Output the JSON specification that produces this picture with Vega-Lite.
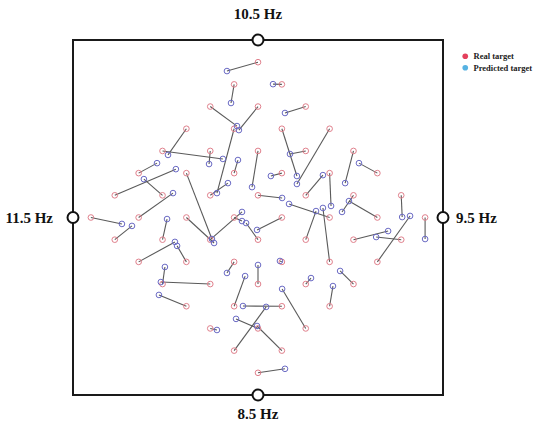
{
  "$schema": "https://vega.github.io/schema/vega-lite/v6.json",
  "width": 370,
  "height": 355,
  "autosize": "none",
  "padding": {"left": 73, "top": 40, "right": 94, "bottom": 28},
  "background": "white",
  "config": {
    "view": {"stroke": "#1a1a1a", "strokeWidth": 2},
    "text": {"font": "Liberation Serif", "fontWeight": "bold", "fontSize": 15, "color": "#111"}
  },
  "datasets": {
    "pairs": [
      {"rx": 0, "ry": 7, "px": -1.30, "py": 6.60},
      {"rx": -1, "ry": 6, "px": -1.13, "py": 5.16},
      {"rx": 1, "ry": 6, "px": 0.63, "py": 6.01},
      {"rx": -2, "ry": 5, "px": -0.88, "py": 4.12},
      {"rx": 0, "ry": 5, "px": -0.80, "py": 3.94},
      {"rx": 2, "ry": 5, "px": 1.13, "py": 4.71},
      {"rx": -3, "ry": 4, "px": -3.77, "py": 2.82},
      {"rx": -1, "ry": 4, "px": -1.72, "py": 1.10},
      {"rx": 1, "ry": 4, "px": 1.63, "py": 1.87},
      {"rx": 3, "ry": 4, "px": 1.63, "py": 1.51},
      {"rx": -4, "ry": 3, "px": -1.47, "py": 2.64},
      {"rx": -2, "ry": 3, "px": -2.05, "py": 2.41},
      {"rx": 0, "ry": 3, "px": -0.25, "py": 1.37},
      {"rx": 2, "ry": 3, "px": 1.34, "py": 2.86},
      {"rx": 4, "ry": 3, "px": 3.65, "py": 1.55},
      {"rx": -5, "ry": 2, "px": -4.23, "py": 2.45},
      {"rx": -3, "ry": 2, "px": -1.93, "py": -0.97},
      {"rx": -1, "ry": 2, "px": -0.84, "py": 2.59},
      {"rx": 1, "ry": 2, "px": 0.54, "py": 1.87},
      {"rx": 3, "ry": 2, "px": 3.06, "py": 0.52},
      {"rx": 5, "ry": 2, "px": 4.23, "py": 2.45},
      {"rx": -6, "ry": 1, "px": -3.44, "py": 2.18},
      {"rx": -4, "ry": 1, "px": -4.78, "py": 1.73},
      {"rx": -2, "ry": 1, "px": -1.26, "py": 1.55},
      {"rx": 0, "ry": 1, "px": 1.01, "py": 0.88},
      {"rx": 2, "ry": 1, "px": 2.72, "py": 1.91},
      {"rx": 4, "ry": 1, "px": 3.52, "py": 0.25},
      {"rx": 6, "ry": 1, "px": 6.04, "py": 0.02},
      {"rx": -7, "ry": 0, "px": -5.70, "py": -0.29},
      {"rx": -5, "ry": 0, "px": -3.56, "py": 1.10},
      {"rx": -3, "ry": 0, "px": -1.84, "py": -1.15},
      {"rx": -1, "ry": 0, "px": -0.67, "py": -0.16},
      {"rx": 1, "ry": 0, "px": -0.04, "py": -0.56},
      {"rx": 3, "ry": 0, "px": 1.30, "py": 0.61},
      {"rx": 5, "ry": 0, "px": 3.81, "py": 0.74},
      {"rx": 7, "ry": 0, "px": 7.00, "py": -0.97},
      {"rx": -6, "ry": -1, "px": -5.28, "py": -0.38},
      {"rx": -4, "ry": -1, "px": -3.81, "py": -0.07},
      {"rx": -2, "ry": -1, "px": -0.67, "py": 0.25},
      {"rx": 0, "ry": -1, "px": -0.50, "py": -0.25},
      {"rx": 2, "ry": -1, "px": 2.43, "py": 0.29},
      {"rx": 4, "ry": -1, "px": 5.45, "py": -0.61},
      {"rx": 6, "ry": -1, "px": 4.95, "py": -0.88},
      {"rx": -5, "ry": -2, "px": -3.48, "py": -1.10},
      {"rx": -3, "ry": -2, "px": -3.39, "py": -1.28},
      {"rx": -1, "ry": -2, "px": -1.30, "py": -2.50},
      {"rx": 1, "ry": -2, "px": 0.92, "py": -1.96},
      {"rx": 3, "ry": -2, "px": 2.72, "py": 0.43},
      {"rx": 5, "ry": -2, "px": 6.37, "py": 0.07},
      {"rx": -4, "ry": -3, "px": -3.90, "py": -2.23},
      {"rx": -2, "ry": -3, "px": -4.07, "py": -2.91},
      {"rx": 0, "ry": -3, "px": 0.00, "py": -2.14},
      {"rx": 2, "ry": -3, "px": 2.22, "py": -2.73},
      {"rx": 4, "ry": -3, "px": 3.44, "py": -2.41},
      {"rx": -3, "ry": -4, "px": -4.15, "py": -3.49},
      {"rx": -1, "ry": -4, "px": -0.54, "py": -2.64},
      {"rx": 1, "ry": -4, "px": -0.63, "py": -3.99},
      {"rx": 3, "ry": -4, "px": 3.14, "py": -3.09},
      {"rx": -2, "ry": -5, "px": -1.72, "py": -5.07},
      {"rx": 0, "ry": -5, "px": -0.92, "py": -4.57},
      {"rx": 2, "ry": -5, "px": 1.01, "py": -3.22},
      {"rx": -1, "ry": -6, "px": 0.34, "py": -4.03},
      {"rx": 1, "ry": -6, "px": -0.04, "py": -4.89},
      {"rx": 0, "ry": -7, "px": 1.13, "py": -6.82}
    ],
    "stim": [
      {"f": "10.5 Hz", "sx": 0, "sy": 8, "side": "top"},
      {"f": "8.5 Hz", "sx": 0, "sy": -8, "side": "bottom"},
      {"f": "11.5 Hz", "sx": -7.75, "sy": 0, "side": "left"},
      {"f": "9.5 Hz", "sx": 7.75, "sy": 0, "side": "right"}
    ]
  },
  "layer": [
    {
      "data": {"name": "pairs"},
      "mark": {"type": "rule", "color": "#5a5a5a", "strokeWidth": 1.1},
      "encoding": {
        "x": {"field": "rx", "type": "quantitative", "scale": {"domain": [-7.75, 7.75], "nice": false, "zero": false}, "axis": null},
        "y": {"field": "ry", "type": "quantitative", "scale": {"domain": [-8, 8], "nice": false, "zero": false}, "axis": null},
        "x2": {"field": "px"},
        "y2": {"field": "py"}
      }
    },
    {
      "data": {"name": "pairs"},
      "mark": {"type": "point", "filled": false, "size": 32, "strokeWidth": 1, "color": "#e0808c", "opacity": 1},
      "encoding": {
        "x": {"field": "rx", "type": "quantitative"},
        "y": {"field": "ry", "type": "quantitative"}
      }
    },
    {
      "data": {"name": "pairs"},
      "mark": {"type": "point", "filled": false, "size": 32, "strokeWidth": 1, "color": "#6a6ac4", "opacity": 1},
      "encoding": {
        "x": {"field": "px", "type": "quantitative"},
        "y": {"field": "py", "type": "quantitative"}
      }
    },
    {
      "data": {"values": []},
      "mark": {"type": "point", "filled": true, "size": 0},
      "encoding": {
        "fill": {
          "field": "t",
          "type": "nominal",
          "scale": {"domain": ["Real target", "Predicted target"], "range": ["#e4405c", "#56b2e2"]},
          "legend": {
            "title": null,
            "orient": "none",
            "legendX": 388,
            "legendY": 12,
            "padding": 0,
            "symbolType": "circle",
            "symbolSize": 32,
            "symbolOpacity": 1,
            "symbolStrokeWidth": 0,
            "labelFont": "Liberation Serif",
            "labelFontWeight": "bold",
            "labelFontSize": 8.5,
            "labelColor": "#222",
            "labelOffset": 4,
            "rowPadding": 2.5
          }
        }
      }
    },
    {
      "data": {"name": "stim"},
      "mark": {"type": "point", "shape": "circle", "filled": true, "fill": "white", "stroke": "#111", "strokeWidth": 2, "size": 120, "opacity": 1},
      "encoding": {
        "x": {"field": "sx", "type": "quantitative"},
        "y": {"field": "sy", "type": "quantitative"}
      }
    },
    {
      "data": {"name": "stim"},
      "transform": [{"filter": "datum.side === 'top'"}],
      "mark": {"type": "text", "dy": -26, "align": "center", "baseline": "middle"},
      "encoding": {"x": {"field": "sx", "type": "quantitative"}, "y": {"field": "sy", "type": "quantitative"}, "text": {"field": "f"}}
    },
    {
      "data": {"name": "stim"},
      "transform": [{"filter": "datum.side === 'bottom'"}],
      "mark": {"type": "text", "dy": 19, "align": "center", "baseline": "middle"},
      "encoding": {"x": {"field": "sx", "type": "quantitative"}, "y": {"field": "sy", "type": "quantitative"}, "text": {"field": "f"}}
    },
    {
      "data": {"name": "stim"},
      "transform": [{"filter": "datum.side === 'left'"}],
      "mark": {"type": "text", "dx": -20, "align": "right", "baseline": "middle"},
      "encoding": {"x": {"field": "sx", "type": "quantitative"}, "y": {"field": "sy", "type": "quantitative"}, "text": {"field": "f"}}
    },
    {
      "data": {"name": "stim"},
      "transform": [{"filter": "datum.side === 'right'"}],
      "mark": {"type": "text", "dx": 13, "align": "left", "baseline": "middle"},
      "encoding": {"x": {"field": "sx", "type": "quantitative"}, "y": {"field": "sy", "type": "quantitative"}, "text": {"field": "f"}}
    }
  ]
}
